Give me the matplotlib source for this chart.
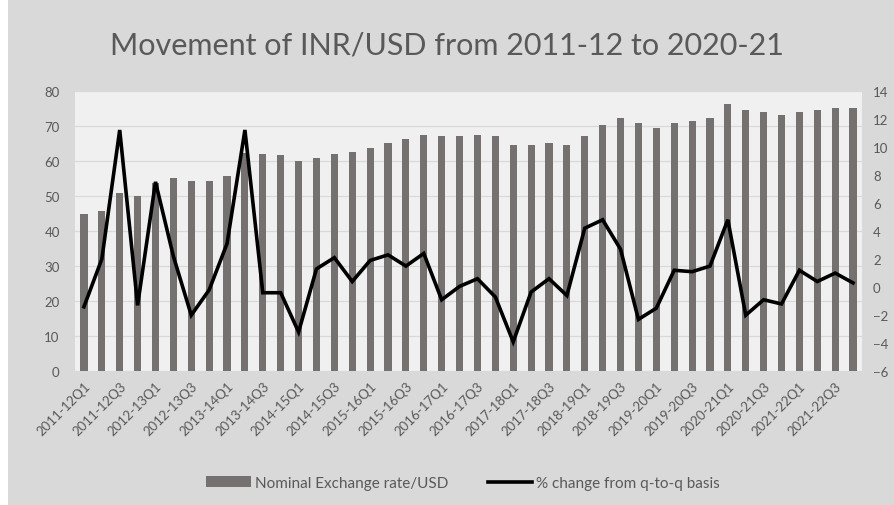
import matplotlib
matplotlib.use("Agg")
import matplotlib.pyplot as plt
from matplotlib.patches import Rectangle

categories = [
    "2011-12Q1", "2011-12Q2", "2011-12Q3", "2011-12Q4",
    "2012-13Q1", "2012-13Q2", "2012-13Q3", "2012-13Q4",
    "2013-14Q1", "2013-14Q2", "2013-14Q3", "2013-14Q4",
    "2014-15Q1", "2014-15Q2", "2014-15Q3", "2014-15Q4",
    "2015-16Q1", "2015-16Q2", "2015-16Q3", "2015-16Q4",
    "2016-17Q1", "2016-17Q2", "2016-17Q3", "2016-17Q4",
    "2017-18Q1", "2017-18Q2", "2017-18Q3", "2017-18Q4",
    "2018-19Q1", "2018-19Q2", "2018-19Q3", "2018-19Q4",
    "2019-20Q1", "2019-20Q2", "2019-20Q3", "2019-20Q4",
    "2020-21Q1", "2020-21Q2", "2020-21Q3", "2020-21Q4",
    "2021-22Q1", "2021-22Q2", "2021-22Q3", "2021-22Q4",
]

exchange_rate = [
    44.8, 45.6, 50.9, 50.0, 53.8, 55.0, 54.2, 54.2,
    55.8, 62.1, 61.9, 61.6, 60.0, 60.8, 62.0, 62.5,
    63.7, 65.0, 66.1, 67.3, 67.0, 67.0, 67.3, 67.0,
    64.5, 64.5, 65.0, 64.5, 67.0, 70.2, 72.3, 70.7,
    69.4, 70.7, 71.4, 72.3, 76.1, 74.5, 74.0, 73.2,
    74.0, 74.5, 75.2, 75.2,
]

pct_change = [
    -1.4, 2.0, 11.2, -1.3, 7.5, 2.2, -2.0, -0.2,
    3.1, 11.2, -0.4, -0.4, -3.2, 1.3, 2.1, 0.4,
    1.9, 2.3, 1.5, 2.4, -0.9, 0.05, 0.6, -0.7,
    -3.9, -0.35, 0.6, -0.6, 4.2, 4.8, 2.7, -2.3,
    -1.5, 1.2, 1.1, 1.5, 4.8, -2.0, -0.9, -1.2,
    1.2, 0.4, 1.0, 0.3,
]

left_ticks = [0, 10, 20, 30, 40, 50, 60, 70, 80]
right_ticks = [-6, -4, -2, 0, 2, 4, 6, 8, 10, 12, 14]

title = "Movement of INR/USD from 2011-12 to 2020-21"
bar_label = "Nominal Exchange rate/USD"
line_label = "% change from q-to-q basis"

TEXT = "#595959"
BAR = "#767171"
OUTER = "#d9d9d9"
INNER = "#f0f0f0"
GRID = "#d9d9d9"

plt.rcParams["font.family"] = ["Lato", "DejaVu Sans"]

fig = plt.figure(figsize=(8.94, 5.06), dpi=100, facecolor=OUTER)
# white strip at the left edge of the image
fig.patches.append(Rectangle((0, 0), 8 / 894, 1, transform=fig.transFigure,
                             facecolor="white", edgecolor="none", zorder=-10))

ax = fig.add_axes([75 / 894, 1 - 372.3 / 506, (862 - 75) / 894, (372.3 - 91.7) / 506])
ax.set_facecolor(INNER)
x = list(range(len(categories)))
bars = ax.bar(x, exchange_rate, width=0.4, color=BAR, zorder=2, label=bar_label)
ax.set_xlim(-0.5, len(categories) - 0.5)
ax.set_ylim(0, 80)
ax.set_yticks(left_ticks)
ax.grid(axis="y", color=GRID, linewidth=0.9, zorder=0)
ax.set_axisbelow(True)
for s in ax.spines.values():
    s.set_visible(False)
ax.tick_params(axis="both", length=0, colors=TEXT, labelsize=9.5)
ax.tick_params(axis="y", pad=11)
ax.set_xticks(x[::2])
ax.set_xticklabels(categories[::2], rotation=45, ha="right", va="top",
                   rotation_mode="anchor", fontsize=9.5, color=TEXT)
ax.tick_params(axis="x", pad=6)

ax2 = ax.twinx()
line, = ax2.plot(x, pct_change, color="black", linewidth=2.6, zorder=3,
                 solid_joinstyle="miter", label=line_label)
ax2.set_ylim(-6, 14)
ax2.set_yticks(right_ticks)
for s in ax2.spines.values():
    s.set_visible(False)
ax2.tick_params(axis="y", length=0, colors=TEXT, labelsize=9.5, pad=8)

fig.text(0.5, 1 - 45 / 506, title, ha="center", va="center",
         fontsize=22, color=TEXT)

fig.legend([bars, line], [bar_label, line_label], loc="center",
           bbox_to_anchor=(463 / 894, 1 - 484 / 506), ncol=2, frameon=False,
           fontsize=11, labelcolor=TEXT, handlelength=2.9, handletextpad=0.25,
           columnspacing=2.6)

fig.savefig("out.png", dpi=100, facecolor=OUTER)
